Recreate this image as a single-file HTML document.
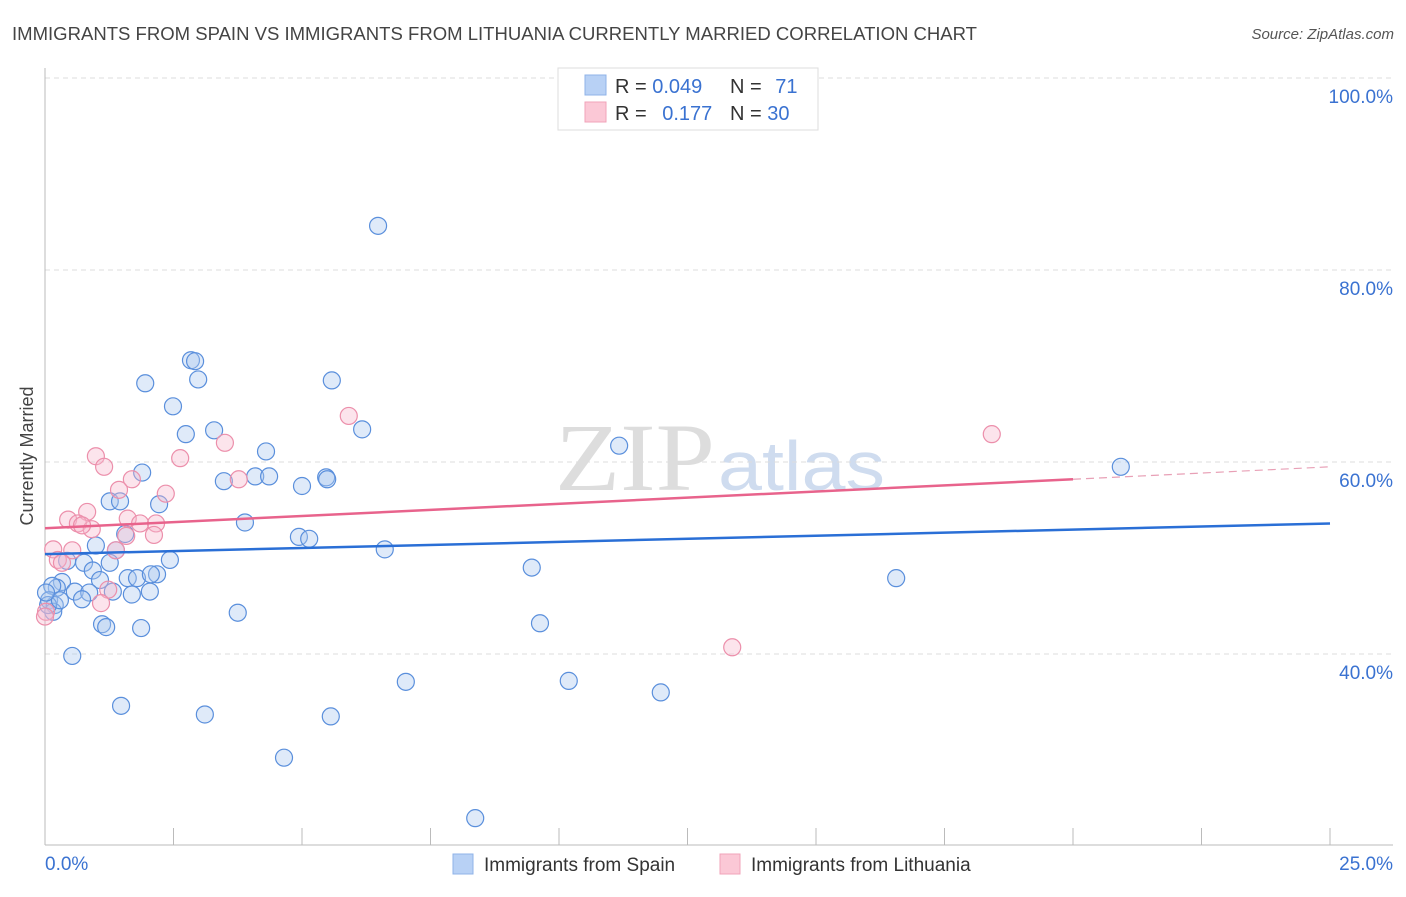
<!DOCTYPE html>
<html><head><meta charset="utf-8"><style>
body{margin:0;background:#fff;font-family:"Liberation Sans",sans-serif;}
svg text{font-family:"Liberation Sans",sans-serif;}
</style></head><body>
<svg id="chart" width="1406" height="892" xmlns="http://www.w3.org/2000/svg">
<text x="12" y="40" font-size="18" fill="#444" textLength="965" lengthAdjust="spacingAndGlyphs">IMMIGRANTS FROM SPAIN VS IMMIGRANTS FROM LITHUANIA CURRENTLY MARRIED CORRELATION CHART</text>
<text x="1394" y="39" font-size="15" fill="#555" text-anchor="end" font-style="italic">Source: ZipAtlas.com</text>
<text transform="translate(33,456) rotate(-90)" font-size="18" fill="#444" text-anchor="middle">Currently Married</text>
<g>
<text x="555" y="490" font-size="96" fill="#ddd" textLength="160" lengthAdjust="spacingAndGlyphs" style="font-family:'Liberation Serif',serif">ZIP</text>
<text x="718" y="490" font-size="70" fill="#cfdcef" textLength="167" lengthAdjust="spacingAndGlyphs">atlas</text>
</g>
<g id="grid"></g>
<g id="axes"></g>
<g id="marks"></g>
<g>
<rect x="558" y="68" width="260" height="62" fill="#fff" stroke="#ddd"/>
<rect x="585" y="75" width="21" height="20" fill="#b8d1f5" stroke="#8fb3e8"/>
<rect x="585" y="102" width="21" height="20" fill="#fbc8d6" stroke="#f0a3b9"/>
<text x="615" y="93" font-size="20" fill="#333">R = <tspan fill="#3a72d1">0.049</tspan></text>
<text x="730" y="93" font-size="20" fill="#333">N = <tspan fill="#3a72d1" dx="8">71</tspan></text>
<text x="615" y="120" font-size="20" fill="#333">R = <tspan fill="#3a72d1" dx="10">0.177</tspan></text>
<text x="730" y="120" font-size="20" fill="#333">N = <tspan fill="#3a72d1">30</tspan></text>
</g>
<g>
<rect x="453" y="854" width="20" height="20" fill="#b8d1f5" stroke="#8fb3e8"/>
<text x="484" y="871" font-size="19" fill="#333">Immigrants from Spain</text>
<rect x="720" y="854" width="20" height="20" fill="#fbc8d6" stroke="#f0a3b9"/>
<text x="751" y="871" font-size="19" fill="#333">Immigrants from Lithuania</text>
</g>
</svg>
<script>
const xTicks=[0,2.5,5,7.5,10,12.5,15,17.5,20,22.5,25];
const yTicks=[40,60,80,100];
const yTickLabels=["40.0%","60.0%","80.0%","100.0%"];
const xEndLabels=["0.0%","25.0%"];
const spainX=[6.48,2.84,2.92,2.98,1.95,5.58,2.49,3.29,2.74,6.17,4.30,11.17,1.89,3.48,4.09,4.36,5.00,5.47,5.49,1.26,1.46,2.22,3.89,1.56,4.94,5.14,0.99,1.38,6.61,2.43,1.26,0.76,0.43,0.93,9.47,1.07,1.61,1.79,2.18,2.06,0.33,0.23,0.14,0.58,0.86,0.72,1.69,2.04,0.08,0.19,0.16,3.75,1.11,1.19,1.87,9.63,16.56,20.93,0.53,7.02,10.19,11.98,1.48,3.11,5.56,4.65,8.37,0.06,0.29,1.32,0.02];
const spainY=[84.6,70.6,70.5,68.6,68.2,68.5,65.8,63.3,62.9,63.4,61.1,61.7,58.9,58.0,58.5,58.5,57.5,58.4,58.2,55.9,55.9,55.6,53.7,52.5,52.2,52.0,51.3,50.8,50.9,49.8,49.5,49.5,49.7,48.7,49.0,47.7,47.9,47.9,48.3,48.3,47.5,46.9,47.1,46.5,46.4,45.7,46.2,46.5,45.6,45.1,44.4,44.3,43.1,42.8,42.7,43.2,47.9,59.5,39.8,37.1,37.2,36.0,34.6,33.7,33.5,29.2,22.9,45.1,45.6,46.5,46.4];
const lithX=[5.91,3.50,0.99,1.15,2.63,3.77,1.69,1.44,2.35,0.82,0.45,0.64,0.91,1.61,1.85,2.16,2.12,1.58,0.16,0.25,0.53,1.38,0.33,1.23,1.09,18.42,13.37,0.02,0.00,0.72];
const lithY=[64.8,62.0,60.6,59.5,60.4,58.2,58.2,57.1,56.7,54.8,54.0,53.6,53.0,54.1,53.6,53.6,52.4,52.3,50.9,49.8,50.8,50.8,49.5,46.7,45.3,62.9,40.7,44.4,43.9,53.4];
const spainTrend=[[0,50.4],[25,53.6]];
const lithTrendSolid=[[0,53.1],[20,58.2]];
const lithTrendDash=[[20,58.2],[25,59.5]];

const X0=45,X1=1330,Y40=654,Y80=270;
const sx=v=>X0+(v/25)*(X1-X0);
const sy=v=>Y40-(v-40)*(Y40-Y80)/40;
const NS="http://www.w3.org/2000/svg";
function mk(tag,attrs,parent){const e=document.createElementNS(NS,tag);for(const k in attrs)e.setAttribute(k,attrs[k]);parent.appendChild(e);return e;}
const grid=document.getElementById('grid'),axes=document.getElementById('axes'),marks=document.getElementById('marks');
yTicks.forEach((t,i)=>{
  const l=mk('line',{x1:45,x2:1393,y1:sy(t),y2:sy(t),stroke:'#ddd','stroke-dasharray':'5,4'},grid);
  
  
  const tx=mk('text',{x:1393,y:sy(t)+25,'font-size':19,fill:'#3a72d1','text-anchor':'end'},axes);
  tx.textContent=yTickLabels[i];
  
  
});
const ya=mk('line',{x1:45,x2:45,y1:68,y2:845,stroke:'#bbb'},axes);


const xa=mk('line',{x1:45,x2:1393,y1:845,y2:845,stroke:'#bbb'},axes);


xTicks.forEach(t=>{
  const l=mk('line',{x1:sx(t),x2:sx(t),y1:828,y2:845,stroke:'#bbb'},axes);
  
  
});
const xl0=mk('text',{x:45,y:870,'font-size':19,fill:'#3a72d1'},axes);
xl0.textContent=xEndLabels[0];


const xl1=mk('text',{x:1393,y:870,'font-size':19,fill:'#3a72d1','text-anchor':'end'},axes);
xl1.textContent=xEndLabels[1];



spainX.forEach((v,i)=>{
  const c=mk('circle',{cx:sx(v),cy:sy(spainY[i]),r:8.5,fill:'rgba(170,200,240,0.38)',stroke:'#5a8fdc','stroke-width':1.2},marks);
  
  
});
lithX.forEach((v,i)=>{
  const c=mk('circle',{cx:sx(v),cy:sy(lithY[i]),r:8.5,fill:'rgba(248,185,205,0.38)',stroke:'#ec8fab','stroke-width':1.2},marks);
  
  
});
const t1=mk('line',{x1:sx(spainTrend[0][0]),y1:sy(spainTrend[0][1]),x2:sx(spainTrend[1][0]),y2:sy(spainTrend[1][1]),stroke:'#2a6fd6','stroke-width':2.5},marks);


const t2=mk('line',{x1:sx(lithTrendSolid[0][0]),y1:sy(lithTrendSolid[0][1]),x2:sx(lithTrendSolid[1][0]),y2:sy(lithTrendSolid[1][1]),stroke:'#e8638c','stroke-width':2.5},marks);


const t3=mk('line',{x1:sx(lithTrendDash[0][0]),y1:sy(lithTrendDash[0][1]),x2:sx(lithTrendDash[1][0]),y2:sy(lithTrendDash[1][1]),stroke:'#e8a0b6','stroke-width':1.2,'stroke-dasharray':'8,5'},marks);


</script>
</body></html>
